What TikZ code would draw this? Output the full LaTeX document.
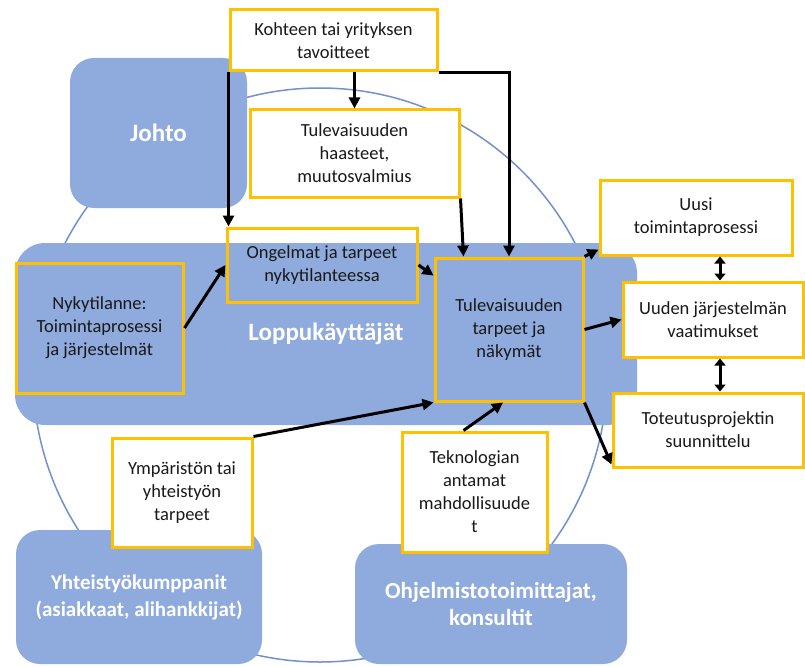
\documentclass[tikz,border=0pt]{standalone}
\usepackage{fontspec}
\setmainfont{Carlito}
\usetikzlibrary{arrows.meta}
\definecolor{ryhmasin}{HTML}{8FAADC}
\definecolor{kehys}{HTML}{FFC000}
\definecolor{kaari}{HTML}{7291CC}
\begin{document}
\begin{tikzpicture}[x=1pt,y=-1pt,
	ryhma/.style={fill=ryhmasin,rounded corners=24pt,text=white,align=center,inner sep=0,
		font=\bfseries\fontsize{25}{28}\selectfont},
	laatikko/.style={draw=kehys,line width=3pt,align=center,inner sep=0,text=black!90,
		font=\fontsize{18.5}{23}\selectfont},
	valkoinen/.style={laatikko,fill=white},
	nuoli/.style={line width=3pt,-{Triangle[length=11pt,width=11pt]}},
	kaksoisnuoli/.style={line width=3pt,{Triangle[length=7pt,width=11pt]}-{Triangle[length=7pt,width=11pt]}}]
\useasboundingbox (0,0) rectangle (805,666);
\draw[kaari,line width=1.5pt] (320,375) circle[radius=287];

\node[ryhma,minimum width=177pt,minimum height=150pt] (johto) at (158.5,133) {Johto};
\node[ryhma,minimum width=622pt,minimum height=182pt,rounded corners=30pt] (loppu) at (326,334) {Loppukäyttäjät};
\node[ryhma,minimum width=246pt,minimum height=134pt,font=\bfseries\fontsize{21}{27}\selectfont] (kumppanit) at (139,597)
	{Yhteistyökumppanit\\(asiakkaat, alihankkijat)};
\node[ryhma,minimum width=272pt,minimum height=120pt,font=\bfseries\fontsize{23}{27}\selectfont] (toimittajat) at (491,604)
	{Ohjelmistotoimittajat,\\konsultit};

\node[valkoinen,minimum width=207pt,minimum height=61pt] (kohde) at (333.5,40.5) {Kohteen tai yrityksen\\tavoitteet};
\node[valkoinen,minimum width=209pt,minimum height=87pt] (haaste) at (354.5,153.5) {Tulevaisuuden\\haasteet,\\muutosvalmius};
\node[laatikko,minimum width=190pt,minimum height=74pt] (ongelma) at (322,265) {Ongelmat ja tarpeet\\nykytilanteessa};
\node[laatikko,minimum width=167pt,minimum height=130pt] (nyky) at (99.5,328) {Nykytilanne:\\Toimintaprosessi\\ja järjestelmät};
\node[laatikko,minimum width=148pt,minimum height=143pt] (tarve) at (509,329.5) {Tulevaisuuden\\tarpeet ja\\näkymät};
\node[valkoinen,minimum width=192pt,minimum height=75pt] (uusi) at (696,217.5) {Uusi\\toimintaprosessi};
\node[valkoinen,minimum width=180pt,minimum height=75pt] (uuden) at (713,319.5) {Uuden järjestelmän\\vaatimukset};
\node[valkoinen,minimum width=190pt,minimum height=74pt] (toteutus) at (708,430) {Toteutusprojektin\\suunnittelu};
\node[valkoinen,minimum width=140pt,minimum height=109pt] (ympar) at (182,492.5) {Ympäristön tai\\yhteistyön\\tarpeet};
\node[valkoinen,minimum width=145pt,minimum height=120pt] (tekno) at (474.5,492) {Teknologian\\antamat\\mahdollisuude\\t};

\draw[nuoli] (kohde.south west) -- (kohde.south west |- ongelma.north);
\draw[nuoli] (haaste.north |- kohde.south) -- (haaste.north);
\draw[nuoli] (kohde.south east) -| (tarve.north);
\draw[nuoli] (haaste.south east) -- ([xshift=3pt]haaste.south east |- tarve.north);
\draw[nuoli] (ongelma.east) -- ([yshift=-19pt]tarve.north west);
\draw[nuoli] (nyky.east) -- (ongelma.west);
\draw[nuoli] (tarve.north east) -- ([yshift=7pt]uusi.south west);
\draw[nuoli] (tarve.east) -- (uuden.west);
\draw[nuoli] (tarve.south east) -- ([yshift=4pt]toteutus.south west);
\draw[nuoli] (ympar.north east) -- (tarve.south west);
\draw[nuoli] ([xshift=-11pt]tekno.north) -- ([xshift=-6pt]tarve.south);
\draw[kaksoisnuoli] ([xshift=24pt]uusi.south) -- ([xshift=24pt]uusi.south |- uuden.north);
\draw[kaksoisnuoli] ([xshift=7pt]uuden.south) -- ([xshift=7pt]uuden.south |- toteutus.north);
\end{tikzpicture}
\end{document}
